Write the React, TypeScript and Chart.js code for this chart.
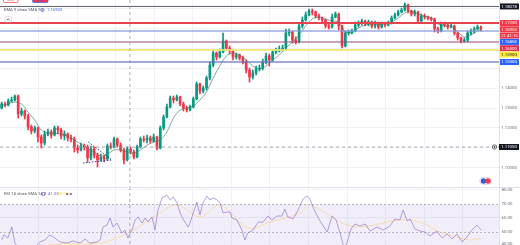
import React, { useEffect, useRef } from 'react';
import { Chart, registerables } from 'chart.js';

Chart.register(...registerables);

// ---------------- DATA ----------------
const firstOpen = 1.13;
const closes = [
  1.1320, 1.1315, 1.1335, 1.1340, 1.1360, 1.1270, 1.1285, 1.1260, 1.1205, 1.1185,
  1.1200, 1.1155, 1.1125, 1.1170, 1.1180, 1.1165, 1.1200, 1.1190, 1.1160, 1.1170,
  1.1150, 1.1145, 1.1100, 1.1090, 1.1110, 1.1105, 1.1050, 1.1095, 1.1065, 1.1040,
  1.1055, 1.1045, 1.1110, 1.1105, 1.1145, 1.1115, 1.1090, 1.1040, 1.1095, 1.1080,
  1.1055, 1.1105, 1.1145, 1.1140, 1.1150, 1.1135, 1.1155, 1.1100, 1.1200, 1.1255,
  1.1305, 1.1350, 1.1340, 1.1355, 1.1320, 1.1300, 1.1290, 1.1305, 1.1345, 1.1420,
  1.1385, 1.1400, 1.1450, 1.1515, 1.1575, 1.1555, 1.1580, 1.1635, 1.1600, 1.1585,
  1.1555, 1.1565, 1.1550, 1.1530, 1.1490, 1.1455, 1.1475, 1.1495, 1.1500, 1.1530,
  1.1560, 1.1540, 1.1580, 1.1585, 1.1595, 1.1600, 1.1675, 1.1680, 1.1640, 1.1630,
  1.1710, 1.1740, 1.1765, 1.1785, 1.1780, 1.1760, 1.1750, 1.1740, 1.1710, 1.1705,
  1.1755, 1.1770, 1.1710, 1.1610, 1.1675, 1.1675, 1.1685, 1.1715, 1.1725, 1.1735,
  1.1720, 1.1730, 1.1710, 1.1725, 1.1705, 1.1720, 1.1715, 1.1725, 1.1750, 1.1765,
  1.1780, 1.1790, 1.1815, 1.1785, 1.1770, 1.1780, 1.1735, 1.1760, 1.1755, 1.1750,
  1.1745, 1.1695, 1.1685, 1.1720, 1.1715, 1.1705, 1.1710, 1.1675, 1.1650, 1.1635,
  1.1640, 1.1675, 1.1685, 1.1695, 1.1705, 1.1695,
];
const highs = [
  1.1330, 1.1330, 1.1345, 1.1355, 1.1365, 1.1365, 1.1300, 1.1290, 1.1270, 1.1215,
  1.1210, 1.1205, 1.1165, 1.1185, 1.1195, 1.1190, 1.1210, 1.1210, 1.1200, 1.1185,
  1.1175, 1.1165, 1.1155, 1.1115, 1.1125, 1.1120, 1.1115, 1.1110, 1.1105, 1.1075,
  1.1070, 1.1065, 1.1120, 1.1125, 1.1155, 1.1150, 1.1125, 1.1100, 1.1105, 1.1105,
  1.1090, 1.1115, 1.1155, 1.1160, 1.1165, 1.1160, 1.1170, 1.1160, 1.1210, 1.1265,
  1.1320, 1.1360, 1.1360, 1.1365, 1.1360, 1.1330, 1.1310, 1.1315, 1.1355, 1.1430,
  1.1425, 1.1410, 1.1460, 1.1530, 1.1590, 1.1580, 1.1595, 1.1675, 1.1640, 1.1610,
  1.1590, 1.1575, 1.1570, 1.1560, 1.1540, 1.1500, 1.1490, 1.1510, 1.1515, 1.1545,
  1.1575, 1.1570, 1.1590, 1.1600, 1.1610, 1.1615, 1.1695, 1.1695, 1.1685, 1.1655,
  1.1725, 1.1755, 1.1780, 1.1795, 1.1795, 1.1785, 1.1770, 1.1755, 1.1745, 1.1720,
  1.1770, 1.1780, 1.1775, 1.1715, 1.1685, 1.1690, 1.1695, 1.1730, 1.1735, 1.1745,
  1.1740, 1.1740, 1.1735, 1.1735, 1.1730, 1.1730, 1.1730, 1.1735, 1.1760, 1.1775,
  1.1790, 1.1800, 1.1825, 1.1820, 1.1790, 1.1790, 1.1785, 1.1770, 1.1770, 1.1760,
  1.1755, 1.1750, 1.1705, 1.1730, 1.1730, 1.1720, 1.1720, 1.1715, 1.1680, 1.1655,
  1.1650, 1.1685, 1.1695, 1.1705, 1.1715, 1.1710,
];
const lows = [
  1.1295, 1.1305, 1.1310, 1.1330, 1.1335, 1.1250, 1.1260, 1.1245, 1.1190, 1.1170,
  1.1175, 1.1130, 1.1100, 1.1115, 1.1160, 1.1150, 1.1160, 1.1170, 1.1145, 1.1140,
  1.1135, 1.1130, 1.1080, 1.1075, 1.1085, 1.1090, 1.1030, 1.1040, 1.1050, 1.1005,
  1.1035, 1.1030, 1.1040, 1.1095, 1.1100, 1.1105, 1.1080, 1.1020, 1.1035, 1.1070,
  1.1045, 1.1050, 1.1100, 1.1130, 1.1125, 1.1125, 1.1130, 1.1090, 1.1095, 1.1190,
  1.1250, 1.1300, 1.1325, 1.1335, 1.1310, 1.1285, 1.1280, 1.1285, 1.1300, 1.1340,
  1.1370, 1.1375, 1.1390, 1.1440, 1.1505, 1.1540, 1.1550, 1.1575, 1.1590, 1.1570,
  1.1540, 1.1545, 1.1540, 1.1520, 1.1475, 1.1430, 1.1445, 1.1465, 1.1485, 1.1490,
  1.1520, 1.1510, 1.1535, 1.1570, 1.1580, 1.1585, 1.1590, 1.1660, 1.1625, 1.1620,
  1.1625, 1.1700, 1.1735, 1.1760, 1.1765, 1.1750, 1.1740, 1.1730, 1.1700, 1.1695,
  1.1700, 1.1750, 1.1690, 1.1600, 1.1605, 1.1665, 1.1670, 1.1680, 1.1705, 1.1715,
  1.1710, 1.1710, 1.1700, 1.1700, 1.1695, 1.1700, 1.1705, 1.1710, 1.1720, 1.1745,
  1.1760, 1.1775, 1.1785, 1.1775, 1.1760, 1.1760, 1.1725, 1.1730, 1.1745, 1.1740,
  1.1735, 1.1680, 1.1675, 1.1680, 1.1705, 1.1695, 1.1700, 1.1665, 1.1640, 1.1625,
  1.1630, 1.1630, 1.1665, 1.1675, 1.1690, 1.1685,
];

const emaIdx = [0, 4, 6, 8, 10, 12, 14, 16, 18, 20, 22, 24, 26, 28, 30, 32, 34, 36, 38, 40,
  42, 44, 46, 48, 50, 52, 54, 56, 58, 60, 62, 64, 66, 68, 70, 72, 74, 76, 78, 80,
  82, 84, 86, 88, 90, 92, 94, 96, 98, 100, 102, 104, 106, 108, 110, 112, 114, 116, 118, 120,
  122, 124, 126, 128, 130, 132, 134, 136, 138, 140, 142, 144, 145];
const emaVals = [1.1310, 1.1330, 1.1320, 1.1280, 1.1240, 1.1190, 1.1175, 1.1175, 1.1170, 1.1160,
  1.1140, 1.1120, 1.1100, 1.1080, 1.1060, 1.1070, 1.1090, 1.1090, 1.1080, 1.1075,
  1.1090, 1.1115, 1.1130, 1.1140, 1.1180, 1.1250, 1.1290, 1.1300, 1.1310, 1.1340,
  1.1380, 1.1450, 1.1510, 1.1560, 1.1575, 1.1565, 1.1540, 1.1510, 1.1495, 1.1510,
  1.1540, 1.1565, 1.1600, 1.1630, 1.1665, 1.1710, 1.1745, 1.1755, 1.1745, 1.1735,
  1.1730, 1.1680, 1.1680, 1.1700, 1.1715, 1.1720, 1.1720, 1.1720, 1.1730, 1.1750,
  1.1775, 1.1785, 1.1770, 1.1760, 1.1750, 1.1720, 1.1710, 1.1710, 1.1680, 1.1655,
  1.1665, 1.1685, 1.1690];

const rsiIdx = [0, 0.7, 1.9, 3.1, 4.0, 5.6, 8.6, 11.6, 13.1, 14.6, 16.1, 17.7, 19.8, 21.6, 23.7,
  25.2, 26.7, 28.9, 29.8, 30.7, 31.9, 32.8, 33.7, 34.9, 36.4, 37.3, 38.2, 39.4, 40.4, 41.3,
  42.5, 43.4, 44.3, 45.5, 46.4, 47.3, 48.5, 50.0, 51.0, 51.9, 53.1, 54.0, 54.9, 56.4, 57.0,
  57.9, 59.1, 60.0, 60.9, 62.1, 63.0, 64.0, 65.2, 66.1, 67.0, 68.2, 69.1, 69.7, 71.2, 72.7,
  73.6, 74.5, 76.1, 77.6, 79.1, 80.6, 81.8, 83.3, 84.8, 85.7, 86.6, 88.2, 89.7, 91.2, 92.4,
  93.3, 94.2, 95.7, 96.9, 98.5, 100.0, 101.2, 102.4, 103.6, 104.5, 105.7, 106.9, 108.4, 110.0, 111.5,
  113.6, 115.4, 117.5, 119.0, 120.5, 121.5, 122.7, 123.6, 125.1, 126.6, 128.1, 129.6, 131.7, 133.3, 134.8,
  136.3, 137.8, 139.3, 140.8, 142.3, 143.8, 145.1];
const rsiVals = [44.3, 47.9, 45.7, 53.6, 42.1, 37.0, 35.7, 42.9, 44.3, 47.9, 45.7, 42.9, 42.1, 43.6, 42.1,
  45.0, 42.1, 42.9, 44.3, 53.6, 55.0, 60.0, 53.6, 56.4, 49.3, 51.4, 45.7, 51.4, 58.6, 60.7,
  56.4, 60.0, 57.1, 60.7, 51.4, 65.7, 74.3, 76.4, 72.9, 75.0, 70.7, 63.6, 59.3, 53.6, 56.4,
  62.9, 71.4, 62.1, 70.7, 75.7, 72.9, 74.3, 72.9, 70.7, 63.6, 64.3, 64.3, 60.0, 58.6, 51.4,
  44.3, 49.3, 51.4, 57.1, 57.1, 61.4, 58.6, 61.4, 61.4, 66.4, 60.7, 59.3, 65.7, 73.6, 75.7,
  73.6, 67.9, 60.7, 55.7, 50.0, 61.4, 58.6, 49.3, 38.6, 42.1, 52.1, 55.7, 54.3, 55.7, 50.7,
  53.6, 51.4, 54.3, 59.3, 58.6, 65.7, 57.9, 59.3, 52.1, 50.7, 50.0, 47.1, 50.7, 45.7, 48.6,
  45.0, 48.6, 42.9, 46.4, 51.4, 55.0, 51.4];

const rsiSmaIdx = [5.6, 17.7, 29.8, 38.8, 47.9, 53.1, 60.0, 66.1, 74.5, 81.2, 90.3, 93.3, 102.4, 108.4, 120.5, 126.6, 132.6, 141.7, 145.1];
const rsiSmaVals = [38.6, 41.4, 42.1, 50.0, 63.6, 69.3, 60.7, 69.3, 52.9, 57.1, 63.6, 69.3, 57.1, 53.6, 58.6, 57.1, 50.0, 44.3, 45.7];

const levelPrices = [1.18078, 1.1725, 1.1685, 1.1630, 1.1590, 1.1530];
const levelColors = ['#5d606b', '#e5444f', 'rgba(130,150,220,0.6)', '#97497f', 'rgba(240,228,110,0.85)', 'rgba(95,111,192,0.8)'];
const levelWidths = [1, 2, 2.2, 1, 1.8, 1.4];
const levelLabelBg = ['#131722', '#f23645', '#2962ff', '#e0324f', '#ffeb3b', '#2962ff'];
const levelLabelFg = ['#ffffff', '#ffffff', '#ffffff', '#ffffff', '#131722', '#ffffff'];

const patternIdx = [26.2, 33.4, 24.6];
const patternPrices = [1.1130, 1.1040, 1.1025];

const priceTicks = [1.18, 1.17, 1.16, 1.15, 1.14, 1.13, 1.12, 1.11, 1.10];
const rsiTicks = [80, 70, 60, 50, 40];
const crosshairIdx = 38.8;
const crosshairPrice = 1.1105;
const countdownText = '21:41:15';
const emaHeader = 'EMA 9 close SMA 9 1';
const emaHeaderValue = '1.16903';
const rsiHeader = 'RSI 14 close SMA 14 2';
const rsiHeaderValues = ['41.35', '39.17'];

// ---------------- LAYOUT ----------------
const W = 520;
const MAIN_H = 187;
const RSI_H = 58;
const AXIS_W = 21;
const X_MIN = -0.5;
const X_MAX = 150.5;
const MAIN_MIN = 1.0905;
const MAIN_MAX = 1.184;
const RSI_MIN = 40.71;
const RSI_MAX = 82.14;
const GRID_STEP = 11.67;
const UP = '#089981';
const DOWN = '#f23645';
const FONT = 'Roboto, "Noto Sans", sans-serif';
const GRID = '#f0f2f6';

const xGridTicks: number[] = [];
for (let k = 1; k * GRID_STEP + X_MIN < X_MAX; k++) xGridTicks.push(X_MIN + k * GRID_STEP);

const opens = closes.map((_, i) => (i === 0 ? firstOpen : closes[i - 1]));
const candleColors = closes.map((c, i) => (c >= opens[i] ? UP : DOWN));

function xScaleConfig() {
  return {
    type: 'linear' as const,
    min: X_MIN,
    max: X_MAX,
    offset: false,
    display: true,
    ticks: { display: false },
    border: { display: false },
    grid: { color: GRID, lineWidth: 1, drawTicks: false, offset: false },
    afterBuildTicks: (s: any) => {
      s.ticks = xGridTicks.map((v) => ({ value: v }));
    },
  };
}

function txt(ctx: CanvasRenderingContext2D, s: string, x: number, y: number, color: string, size: number, align: CanvasTextAlign = 'left') {
  ctx.font = `${size}px ${FONT}`;
  ctx.fillStyle = color;
  ctx.textAlign = align;
  ctx.textBaseline = 'middle';
  ctx.fillText(s, x, y);
}

function labelBox(ctx: CanvasRenderingContext2D, y: number, s: string, bg: string, fg: string) {
  ctx.fillStyle = bg;
  ctx.fillRect(500, y - 3, 19, 6);
  txt(ctx, s, 501.2, y + 0.3, fg, 4.3);
}

function crosshairV(chart: any) {
  const ctx = chart.ctx as CanvasRenderingContext2D;
  const x = chart.scales.x.getPixelForValue(crosshairIdx);
  ctx.save();
  ctx.strokeStyle = '#9598a1';
  ctx.lineWidth = 0.8;
  ctx.setLineDash([3, 3]);
  ctx.beginPath();
  ctx.moveTo(x, 0);
  ctx.lineTo(x, chart.height);
  ctx.stroke();
  ctx.restore();
}

function axisBorder(chart: any) {
  const ctx = chart.ctx as CanvasRenderingContext2D;
  const x = chart.chartArea.right + 0.5;
  ctx.save();
  ctx.strokeStyle = '#e0e3eb';
  ctx.lineWidth = 1;
  ctx.beginPath();
  ctx.moveTo(x, 0);
  ctx.lineTo(x, chart.height);
  ctx.stroke();
  ctx.restore();
}

const mainDecor = {
  id: 'mainDecor',
  afterDraw(chart: any) {
    const ctx = chart.ctx as CanvasRenderingContext2D;
    const ys = chart.scales.y;
    ctx.save();
    axisBorder(chart);
    crosshairV(chart);
    const cy = ys.getPixelForValue(crosshairPrice);
    ctx.strokeStyle = '#9598a1';
    ctx.lineWidth = 0.8;
    ctx.setLineDash([3, 3]);
    ctx.beginPath();
    ctx.moveTo(0, cy);
    ctx.lineTo(chart.chartArea.right, cy);
    ctx.stroke();
    ctx.setLineDash([]);

    const lastClose = closes[closes.length - 1];
    const curColor = candleColors[candleColors.length - 1];
    const items = levelPrices.map((p, k) => ({ y: ys.getPixelForValue(p), text: p.toFixed(5), bg: levelLabelBg[k], fg: levelLabelFg[k] }));
    const curY = ys.getPixelForValue(lastClose);
    items.push({ y: curY, text: lastClose.toFixed(5), bg: curColor, fg: '#fff' });
    items.push({ y: curY + 0.01, text: countdownText, bg: curColor, fg: '#fff' });
    items.sort((a, b) => a.y - b.y);
    let prev = -100;
    const placed: number[] = [];
    items.forEach((it) => {
      const y = Math.max(it.y, prev + 6.3);
      prev = y;
      placed.push(y);
      labelBox(ctx, y, it.text, it.bg, it.fg);
    });
    placed.push(cy);
    priceTicks.forEach((t) => {
      const y = ys.getPixelForValue(t);
      if (placed.some((p) => Math.abs(p - y) < 6.5)) return;
      if (y > chart.height - 2) return;
      txt(ctx, t.toFixed(5), 501.2, y + 0.3, '#6a6d78', 4.3);
    });
    ctx.fillStyle = '#131722';
    ctx.fillRect(499, cy - 3, 20, 6);
    txt(ctx, crosshairPrice.toFixed(5), 501.2, cy + 0.3, '#ffffff', 4.3);
    ctx.beginPath();
    ctx.fillStyle = '#ffffff';
    ctx.strokeStyle = '#131722';
    ctx.lineWidth = 0.6;
    ctx.arc(494.5, cy, 2.2, 0, Math.PI * 2);
    ctx.fill();
    ctx.stroke();
    ctx.beginPath();
    ctx.moveTo(493.3, cy);
    ctx.lineTo(495.7, cy);
    ctx.moveTo(494.5, cy - 1.2);
    ctx.lineTo(494.5, cy + 1.2);
    ctx.stroke();

    ctx.lineWidth = 0.7;
    ctx.strokeStyle = '#f23645';
    ctx.fillStyle = '#ffffff';
    ctx.beginPath();
    ctx.roundRect(3.5, -4, 14.5, 6.5, 1.2);
    ctx.fill();
    ctx.stroke();
    txt(ctx, 'SELL', 10.7, 0.2, '#f23645', 3.2, 'center');
    ctx.strokeStyle = '#2962ff';
    ctx.beginPath();
    ctx.roundRect(32.5, -4, 15.5, 6.5, 1.2);
    ctx.fill();
    ctx.stroke();
    txt(ctx, 'BUY', 40.2, 0.2, '#2962ff', 3.2, 'center');

    txt(ctx, emaHeader, 4, 10.2, '#555863', 4.2);
    ctx.beginPath();
    ctx.strokeStyle = '#5b5fc7';
    ctx.lineWidth = 0.8;
    ctx.arc(42.5, 10, 1.6, 0, Math.PI * 2);
    ctx.stroke();
    txt(ctx, emaHeaderValue, 47, 10.2, '#3b6fd8', 4.2);

    ctx.fillStyle = '#ffffff';
    ctx.strokeStyle = '#c9ccd6';
    ctx.lineWidth = 0.6;
    ctx.beginPath();
    ctx.roundRect(5, 16.5, 6.5, 5.5, 1);
    ctx.fill();
    ctx.stroke();
    ctx.strokeStyle = '#131722';
    ctx.beginPath();
    ctx.moveTo(6.9, 20.3);
    ctx.lineTo(8.25, 18.6);
    ctx.lineTo(9.6, 20.3);
    ctx.stroke();

    ctx.fillStyle = '#ffffff';
    ctx.strokeStyle = '#c7cbe0';
    ctx.beginPath();
    ctx.roundRect(479.5, 177.5, 12.5, 7, 3.5);
    ctx.fill();
    ctx.stroke();
    ctx.fillStyle = '#3f5bd0';
    ctx.beginPath();
    ctx.arc(483.5, 181, 2.8, 0, Math.PI * 2);
    ctx.fill();
    ctx.fillStyle = '#e2404f';
    ctx.beginPath();
    ctx.arc(488, 181, 2.8, 0, Math.PI * 2);
    ctx.fill();
    ctx.restore();
  },
};

const rsiDecor = {
  id: 'rsiDecor',
  beforeDatasetsDraw(chart: any) {
    const ctx = chart.ctx as CanvasRenderingContext2D;
    const ys = chart.scales.y;
    const a = chart.chartArea;
    const y70 = ys.getPixelForValue(70);
    const y30 = ys.getPixelForValue(30);
    ctx.save();
    ctx.beginPath();
    ctx.rect(a.left, a.top, a.right - a.left, a.bottom - a.top);
    ctx.clip();
    ctx.fillStyle = 'rgba(126,87,194,0.1)';
    ctx.fillRect(a.left, y70, a.right - a.left, y30 - y70);
    ctx.strokeStyle = 'rgba(120,123,134,0.6)';
    ctx.lineWidth = 0.8;
    ctx.setLineDash([2, 2]);
    [70, 50, 30].forEach((v) => {
      const y = Math.round(ys.getPixelForValue(v)) + 0.5;
      ctx.beginPath();
      ctx.moveTo(a.left, y);
      ctx.lineTo(a.right, y);
      ctx.stroke();
    });
    ctx.restore();
  },
  afterDraw(chart: any) {
    const ctx = chart.ctx as CanvasRenderingContext2D;
    const ys = chart.scales.y;
    ctx.save();
    axisBorder(chart);
    crosshairV(chart);
    ctx.strokeStyle = '#e0e3eb';
    ctx.lineWidth = 1;
    ctx.beginPath();
    ctx.moveTo(0, 0.5);
    ctx.lineTo(W, 0.5);
    ctx.stroke();
    txt(ctx, rsiHeader, 4, 7.2, '#555863', 4.2);
    ctx.beginPath();
    ctx.strokeStyle = '#7e57c2';
    ctx.lineWidth = 0.8;
    ctx.arc(43.5, 7, 1.6, 0, Math.PI * 2);
    ctx.stroke();
    txt(ctx, rsiHeaderValues[0], 48, 7.2, '#7e57c2', 4.2);
    txt(ctx, rsiHeaderValues[1], 57, 7.2, '#e8c63a', 4.2);
    txt(ctx, 'ø ø', 66, 7.2, '#131722', 4.2);
    rsiTicks.forEach((t) => {
      const y = Math.min(ys.getPixelForValue(t), chart.height - 1.5);
      txt(ctx, t.toFixed(2), 501.5, y + 0.3, '#6a6d78', 4.3);
    });
    ctx.restore();
  },
};

function mainConfig(): any {
  const wickData = closes.map((_, i) => ({ x: i, y: [lows[i], highs[i]] }));
  const bodyData = closes.map((c, i) => ({ x: i, y: [opens[i], c] }));
  const emaData = emaIdx.map((x, k) => ({ x, y: emaVals[k] }));
  const levelSets = levelPrices.map((p, k) => ({
    type: 'line',
    data: [{ x: X_MIN, y: p }, { x: X_MAX, y: p }],
    borderColor: levelColors[k],
    borderWidth: levelWidths[k],
    pointRadius: 0,
    order: 0,
  }));
  const patternSets = [
    [0, 1],
    [2, 1],
  ].map(([a, b]) => ({
    type: 'line',
    data: [
      { x: patternIdx[a], y: patternPrices[a] },
      { x: patternIdx[b], y: patternPrices[b] },
    ],
    borderColor: '#2b3f99',
    borderWidth: 1,
    borderDash: [1.5, 1.5],
    pointRadius: 0,
    order: 0,
  }));
  return {
    type: 'bar',
    data: {
      datasets: [
        {
          type: 'bar',
          data: wickData,
          backgroundColor: candleColors,
          borderWidth: 0,
          barThickness: 1,
          grouped: false,
          order: 4,
        },
        {
          type: 'bar',
          data: bodyData,
          backgroundColor: candleColors,
          borderWidth: 0,
          barThickness: 2,
          minBarLength: 1,
          grouped: false,
          order: 3,
        },
        {
          type: 'line',
          data: emaData,
          borderColor: 'rgba(60,120,105,0.7)',
          borderWidth: 0.9,
          pointRadius: 0,
          tension: 0.3,
          order: 2,
        },
        ...levelSets,
        ...patternSets,
      ],
    },
    options: {
      animation: false,
      responsive: false,
      devicePixelRatio: 1,
      events: [],
      layout: { padding: { left: 0, right: AXIS_W, top: 0, bottom: 0 } },
      plugins: { legend: { display: false }, tooltip: { enabled: false } },
      scales: {
        x: xScaleConfig(),
        y: {
          type: 'linear',
          position: 'right',
          min: MAIN_MIN,
          max: MAIN_MAX,
          beginAtZero: false,
          display: true,
          ticks: { display: false },
          border: { display: false },
          grid: { color: GRID, drawTicks: false },
          afterBuildTicks: (s: any) => {
            s.ticks = priceTicks.map((v) => ({ value: v }));
          },
        },
      },
    },
    plugins: [mainDecor],
  };
}

function rsiConfig(): any {
  return {
    type: 'line',
    data: {
      datasets: [
        {
          data: rsiIdx.map((x, k) => ({ x, y: rsiVals[k] })),
          borderColor: 'rgba(126,87,194,0.65)',
          borderWidth: 0.85,
          pointRadius: 0,
          tension: 0,
          order: 0,
        },
        {
          data: rsiSmaIdx.map((x, k) => ({ x, y: rsiSmaVals[k] })),
          borderColor: 'rgba(245,205,100,0.5)',
          borderWidth: 1,
          pointRadius: 0,
          tension: 0.35,
          order: 1,
        },
      ],
    },
    options: {
      animation: false,
      responsive: false,
      devicePixelRatio: 1,
      events: [],
      layout: { padding: { left: 0, right: AXIS_W, top: 0, bottom: 0 } },
      plugins: { legend: { display: false }, tooltip: { enabled: false } },
      scales: {
        x: xScaleConfig(),
        y: {
          type: 'linear',
          position: 'right',
          min: RSI_MIN,
          max: RSI_MAX,
          display: true,
          ticks: { display: false },
          border: { display: false },
          grid: { color: GRID, drawTicks: false },
          afterBuildTicks: (s: any) => {
            s.ticks = [60, 80].map((v) => ({ value: v }));
          },
        },
      },
    },
    plugins: [rsiDecor],
  };
}

export default function App() {
  const mainRef = useRef<HTMLCanvasElement>(null);
  const rsiRef = useRef<HTMLCanvasElement>(null);
  useEffect(() => {
    const c1 = new Chart(mainRef.current as HTMLCanvasElement, mainConfig());
    const c2 = new Chart(rsiRef.current as HTMLCanvasElement, rsiConfig());
    return () => {
      c1.destroy();
      c2.destroy();
    };
  }, []);
  return (
    <div style={{ position: 'fixed', left: 0, top: 0, width: W, height: 245, background: '#ffffff', overflow: 'hidden' }}>
      <canvas ref={mainRef} width={W} height={MAIN_H} style={{ display: 'block', width: W, height: MAIN_H }} />
      <canvas ref={rsiRef} width={W} height={RSI_H} style={{ display: 'block', width: W, height: RSI_H }} />
    </div>
  );
}
